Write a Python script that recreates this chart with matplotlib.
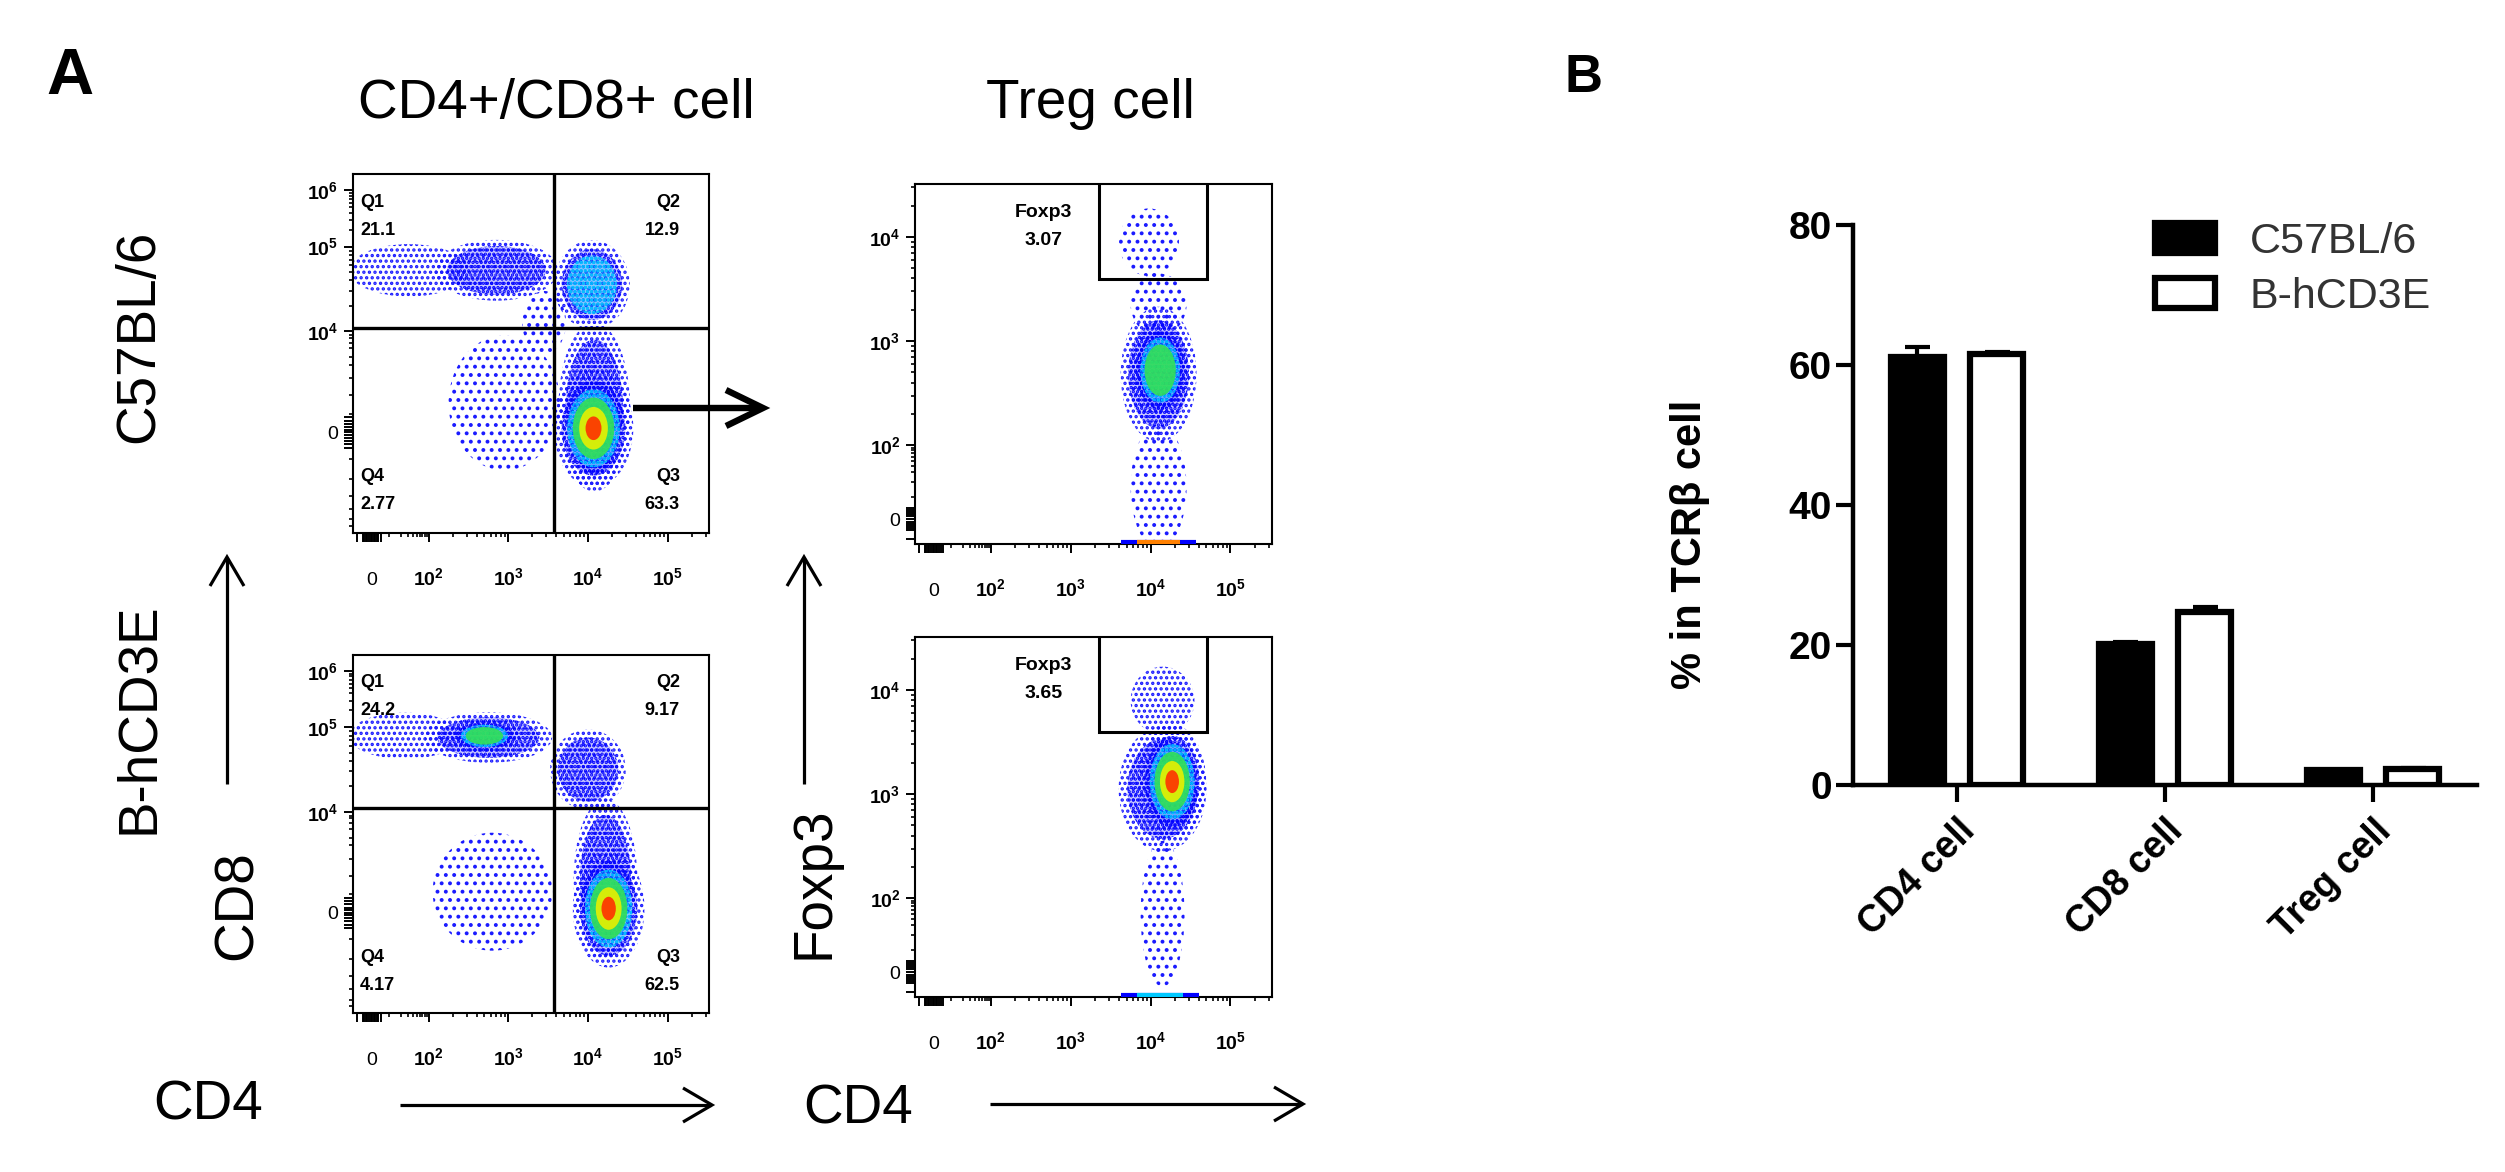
import numpy as np
import matplotlib
matplotlib.use('Agg')
import matplotlib.pyplot as plt
from matplotlib.patches import Ellipse, Rectangle
from matplotlib.lines import Line2D

plt.rcParams['font.family'] = ['Liberation Sans', 'DejaVu Sans']
plt.rcParams['mathtext.fontset'] = 'custom'
plt.rcParams['mathtext.rm'] = 'Liberation Sans:bold'
plt.rcParams['mathtext.bf'] = 'Liberation Sans:bold'
plt.rcParams['mathtext.it'] = 'Liberation Sans:bold'
plt.rcParams['hatch.linewidth'] = 1.6

# ------------------------------------------------------------------ data
# Panel B : % in TCRb cells
categories = ['CD4 cell', 'CD8 cell', 'Treg cell']
groups = ['C57BL/6', 'B-hCD3E']
mean_b6 = [61.2, 20.1, 2.1]
sem_b6 = [1.4, 0.4, 0.1]
mean_hcd3e = [61.6, 24.7, 2.3]
sem_hcd3e = [0.3, 0.8, 0.2]

# Panel A : flow plots, axis positions in decade units of the biexponential axes
cd4_tick_u = [1.29, 2, 3, 4, 5]
cd4_tick_labels = ['0', '$10^{2}$', '$10^{3}$', '$10^{4}$', '$10^{5}$']
cd8_tick_u = [2.80, 4, 5, 5.67]
cd8_tick_labels = ['0', '$10^{4}$', '$10^{5}$', '$10^{6}$']
foxp3_tick_u = [1.29, 2, 3, 4]
foxp3_tick_labels = ['0', '$10^{2}$', '$10^{3}$', '$10^{4}$']

cd4_gate_u = 3.58
cd8_gate_u = 4.04
foxp3_gate_x = [3.36, 4.70]
foxp3_gate_y_low = 3.60

quadrant_names = ['Q1', 'Q2', 'Q3', 'Q4']
quadrant_b6 = ['21.1', '12.9', '63.3', '2.77']
quadrant_hcd3e = ['24.2', '9.17', '62.5', '4.17']
treg_pct_b6 = '3.07'
treg_pct_hcd3e = '3.65'

# cell populations: centre (x, y), extent (w, h), density level -1..5
b6_cd48_x = [1.75, 2.85, 4.05, 3.45, 4.08, 4.07, 2.95]
b6_cd48_y = [4.72, 4.72, 4.55, 4.10, 3.10, 2.85, 3.15]
b6_cd48_w = [1.50, 1.55, 0.95, 0.55, 0.90, 1.00, 1.40]
b6_cd48_h = [0.62, 0.72, 1.05, 0.75, 2.00, 1.40, 1.60]
b6_cd48_lv = [0, 1, 2, -1, 1, 5, -1]

hc_cd48_x = [1.70, 2.75, 2.70, 4.00, 4.22, 4.26, 2.80]
hc_cd48_y = [4.90, 4.88, 4.90, 4.50, 3.20, 2.85, 3.05]
hc_cd48_w = [1.40, 1.60, 0.90, 0.95, 0.80, 0.90, 1.50]
hc_cd48_h = [0.55, 0.60, 0.40, 0.95, 1.90, 1.40, 1.40]
hc_cd48_lv = [0, 1, 3, 1, 1, 5, -1]

b6_treg_x = [3.98, 4.10, 4.10, 4.12, 4.10]
b6_treg_y = [3.95, 3.35, 2.68, 2.72, 1.60]
b6_treg_w = [0.75, 0.70, 0.95, 0.75, 0.70]
b6_treg_h = [0.65, 0.60, 1.30, 0.95, 1.20]
b6_treg_lv = [-1, -1, 1, 3, -1]

hc_treg_x = [4.15, 4.15, 4.27, 4.15]
hc_treg_y = [3.90, 3.05, 3.12, 1.85]
hc_treg_w = [0.80, 1.10, 0.85, 0.55]
hc_treg_h = [0.65, 1.20, 1.10, 1.40]
hc_treg_lv = [0, 1, 5, -1]

edge_b6 = [3.63, 4.57]
edge_hc = [3.63, 4.60]

# ------------------------------------------------------------------ figure
W, H = 2505, 1172
fig = plt.figure(figsize=(W / 100, H / 100), dpi=100)


def fx(px):
    return px / W


def fy(py):
    return 1 - py / H


def box(l, t, r, b):
    return [fx(l), fy(b), (r - l) / W, (b - t) / H]


# (minimum level, size scale, fill colour, fill alpha, hatch colour, hatch)
LAYERS = [
    (1, 0.80, '#0000ff', 0.22, '#0000ff', '....'),
    (2, 0.66, '#00c8ff', 0.35, '#00d8ff', '....'),
    (3, 0.52, '#33e055', 0.90, None, None),
    (4, 0.36, '#e8f000', 0.90, None, None),
    (5, 0.20, '#ff3000', 0.90, None, None),
]


def draw_cells(ax, xs, ys, ws, hs, lvs):
    # sparse outer speckle of every population
    for x, y, w, h, lv in zip(xs, ys, ws, hs, lvs):
        ax.add_patch(Ellipse((x, y), w, h, facecolor='none', edgecolor='#1a1aff',
                             hatch='..' if lv < 0 else '...', linewidth=0))
    for minlev, sc, fc, fa, hc, hatch in LAYERS:
        for x, y, w, h, lv in zip(xs, ys, ws, hs, lvs):
            if lv < minlev:
                continue
            ax.add_patch(Ellipse((x, y), w * sc, h * sc, facecolor=fc,
                                 edgecolor='none', linewidth=0, alpha=fa))
            if hatch:
                ax.add_patch(Ellipse((x, y), w * sc, h * sc, facecolor='none',
                                     edgecolor=hc, hatch=hatch, linewidth=0))


x_zero_cluster = [1.10, 1.17, 1.19, 1.21, 1.23, 1.25, 1.27, 1.31, 1.33, 1.35, 1.37, 1.40]
x_minor = ([1.5 + 0.5 * np.log10(k) for k in range(1, 10)] +
           [d + np.log10(k) for d in (2, 3, 4) for k in range(2, 10)] +
           [5 + np.log10(k) for k in (2, 3)])
cd8_zero_cluster = [2.62, 2.66, 2.70, 2.74, 2.77, 2.83, 2.86, 2.90, 2.94, 2.98]
cd8_minor = ([1.69, 1.77, 1.89, 2.05, 2.25, 2.49, 3.02, 3.24, 3.44, 3.60, 3.69, 3.80, 3.86, 3.92, 3.95] +
             [4 + np.log10(k) for k in range(2, 10)] +
             [5 + 0.67 * np.log10(k) for k in range(2, 10)])
fox_zero_cluster = [1.10, 1.18, 1.20, 1.22, 1.24, 1.26, 1.32, 1.34, 1.36, 1.38, 1.40]
fox_minor = ([1.5 + 0.5 * np.log10(k) for k in range(1, 10)] +
             [d + np.log10(k) for d in (2, 3) for k in range(2, 10)] +
             [4 + np.log10(k) for k in (2, 3)])


def setup_flow(ax, ylim, ymaj, ylab, yclus, ymin):
    ax.set_xlim(1.05, 5.52)
    ax.set_ylim(*ylim)
    xt = list(cd4_tick_u) + x_zero_cluster
    xl = list(cd4_tick_labels) + [''] * len(x_zero_cluster)
    ax.set_xticks(xt, xl)
    ax.set_xticks(x_minor, minor=True)
    yt = list(ymaj) + yclus
    yl = list(ylab) + [''] * len(yclus)
    ax.set_yticks(yt, yl)
    ax.set_yticks(ymin, minor=True)
    ax.tick_params(which='major', length=6.5, width=1.4, direction='out', labelsize=14)
    ax.tick_params(axis='x', which='major', pad=31)
    ax.tick_params(axis='y', which='major', pad=4)
    ax.tick_params(which='minor', length=3.2, width=1.2, direction='out')
    for lab in ax.get_xticklabels():
        lab.set_verticalalignment('baseline')
    for s in ax.spines.values():
        s.set_linewidth(1.5)


def quad_text(ax, vals):
    kw = dict(transform=ax.transAxes, fontsize=13, fontweight='bold', va='center')
    ax.text(0.02, 0.922, quadrant_names[0], ha='left', **kw)
    ax.text(0.02, 0.844, vals[0], ha='left', **kw)
    ax.text(0.918, 0.922, quadrant_names[1], ha='right', **kw)
    ax.text(0.918, 0.844, vals[1], ha='right', **kw)
    ax.text(0.918, 0.156, quadrant_names[2], ha='right', **kw)
    ax.text(0.918, 0.078, vals[2], ha='right', **kw)
    ax.text(0.02, 0.156, quadrant_names[3], ha='left', **kw)
    ax.text(0.02, 0.078, vals[3], ha='left', **kw)


# --- CD4/CD8 plots
for (t, b), xs, ys, ws, hs, lv, qv in [
        ((174, 533), b6_cd48_x, b6_cd48_y, b6_cd48_w, b6_cd48_h, b6_cd48_lv, quadrant_b6),
        ((655, 1013), hc_cd48_x, hc_cd48_y, hc_cd48_w, hc_cd48_h, hc_cd48_lv, quadrant_hcd3e)]:
    ax = fig.add_axes(box(353, t, 709, b))
    setup_flow(ax, (1.61, 5.86), cd8_tick_u, cd8_tick_labels, cd8_zero_cluster, cd8_minor)
    draw_cells(ax, xs, ys, ws, hs, lv)
    ax.axvline(cd4_gate_u, color='k', lw=2.4, zorder=5)
    ax.axhline(cd8_gate_u, color='k', lw=2.4, zorder=5)
    quad_text(ax, qv)

# --- Treg plots
for (t, b), xs, ys, ws, hs, lv, pct, edge, ecol in [
        ((184, 544), b6_treg_x, b6_treg_y, b6_treg_w, b6_treg_h, b6_treg_lv, treg_pct_b6, edge_b6, '#ff8000'),
        ((637, 997), hc_treg_x, hc_treg_y, hc_treg_w, hc_treg_h, hc_treg_lv, treg_pct_hcd3e, edge_hc, '#00c8ff')]:
    ax = fig.add_axes(box(915, t, 1272, b))
    setup_flow(ax, (1.05, 4.51), foxp3_tick_u, foxp3_tick_labels, fox_zero_cluster, fox_minor)
    draw_cells(ax, xs, ys, ws, hs, lv)
    ax.hlines(1.065, edge[0], edge[1], color='#0000ff', lw=3, zorder=4)
    ax.hlines(1.065, edge[0] + 0.2, edge[1] - 0.2, color=ecol, lw=3, zorder=4)
    ax.add_patch(Rectangle((foxp3_gate_x[0], foxp3_gate_y_low),
                           foxp3_gate_x[1] - foxp3_gate_x[0], 1.0,
                           fill=False, ec='k', lw=2.2, zorder=5))
    kw = dict(transform=ax.transAxes, fontsize=14, fontweight='bold', ha='center', va='center')
    ax.text(0.36, 0.922, 'Foxp3', **kw)
    ax.text(0.36, 0.844, pct, **kw)

# --- Panel A labels and arrows
fig.text(fx(46), fy(94), 'A', fontsize=47, fontweight='bold',
         family=['Liberation Sans Narrow', 'Liberation Sans'], ha='left', va='baseline')
fig.text(fx(556), fy(118), 'CD4+/CD8+ cell', fontsize=39.5, ha='center', va='baseline')
fig.text(fx(1090), fy(118), 'Treg cell', fontsize=39.5, ha='center', va='baseline')
rot = dict(rotation=90, rotation_mode='anchor', ha='center', va='baseline', fontsize=39.5)
fig.text(fx(153), fy(336), 'C57BL/6', **rot)
fig.text(fx(153), fy(718), 'B-hCD3E', **rot)
fig.text(fx(252), fy(905), 'CD8', **rot)
fig.text(fx(829), fy(883), 'Foxp3', **rot)
fig.text(fx(208), fy(1120), 'CD4', fontsize=39.5, ha='center', va='baseline')
fig.text(fx(858), fy(1124), 'CD4', fontsize=39.5, ha='center', va='baseline')


def arrow(x0, y0, x1, y1, lw, hl, hw):
    d = np.array([x1 - x0, y1 - y0], float)
    d /= np.hypot(*d)
    n = np.array([-d[1], d[0]])
    fig.add_artist(Line2D([fx(x0), fx(x1 - d[0] * lw * 0.3)], [fy(y0), fy(y1 - d[1] * lw * 0.3)],
                          lw=lw, color='k', solid_capstyle='butt'))
    p1 = np.array([x1, y1]) - d * hl + n * hw
    p2 = np.array([x1, y1]) - d * hl - n * hw
    fig.add_artist(Line2D([fx(p1[0]), fx(x1), fx(p2[0])], [fy(p1[1]), fy(y1), fy(p2[1])],
                          lw=lw, color='k', solid_joinstyle='miter', solid_capstyle='butt'))


arrow(633, 408, 763, 408, 4.6, 37, 18)
arrow(227, 784, 227, 557, 2.3, 29, 17)
arrow(804, 784, 804, 557, 2.3, 29, 17)
arrow(400, 1105, 712, 1105, 2.3, 29, 17)
arrow(990, 1104, 1303, 1104, 2.3, 29, 17)

# ------------------------------------------------------------------ Panel B
axB = fig.add_axes(box(1853, 225, 2477, 785))
xpos = np.arange(len(categories))
off, bw = 0.19, 0.255
hb6 = axB.bar(xpos - off, mean_b6, bw, color='k', edgecolor='k', lw=4.5, zorder=3)
hhc = axB.bar(xpos + off, mean_hcd3e, bw, color='w', edgecolor='k', lw=4.5, zorder=3)
axB.errorbar(xpos - off, mean_b6, yerr=[np.zeros(3), sem_b6], fmt='none', ecolor='k',
             elinewidth=3, capsize=9, capthick=3, zorder=4)
axB.errorbar(xpos + off, mean_hcd3e, yerr=[np.zeros(3), sem_hcd3e], fmt='none', ecolor='k',
             elinewidth=3, capsize=9, capthick=3, zorder=4)
axB.set_xlim(-0.5, 2.5)
axB.set_ylim(0, 80)
axB.set_yticks([0, 20, 40, 60, 80])
axB.set_xticks(xpos, categories, rotation=45, ha='right', rotation_mode='anchor')
for lab in axB.get_xticklabels() + axB.get_yticklabels():
    lab.set_fontweight('bold')
axB.tick_params(axis='y', length=12, width=3, labelsize=28, pad=3)
axB.tick_params(axis='x', length=12, width=3, labelsize=27, pad=8)
for s in ('top', 'right'):
    axB.spines[s].set_visible(False)
for s in ('left', 'bottom'):
    axB.spines[s].set_linewidth(3.2)
axB.legend([hb6, hhc], groups, loc='upper left', bbox_to_anchor=(0.484, 1.005),
           frameon=False, fontsize=31, handlelength=1.4, handleheight=0.7,
           handletextpad=0.8, labelspacing=0.35, borderpad=0, borderaxespad=0,
           labelcolor='#333333')
fig.text(fx(1690), fy(544), '% in TCRβ cell', rotation=90, fontsize=30,
         fontweight='bold', ha='center', va='center')
fig.text(fx(1564), fy(92), 'B', fontsize=38, fontweight='bold', ha='left', va='baseline')

fig.savefig('out.png', dpi=100)
